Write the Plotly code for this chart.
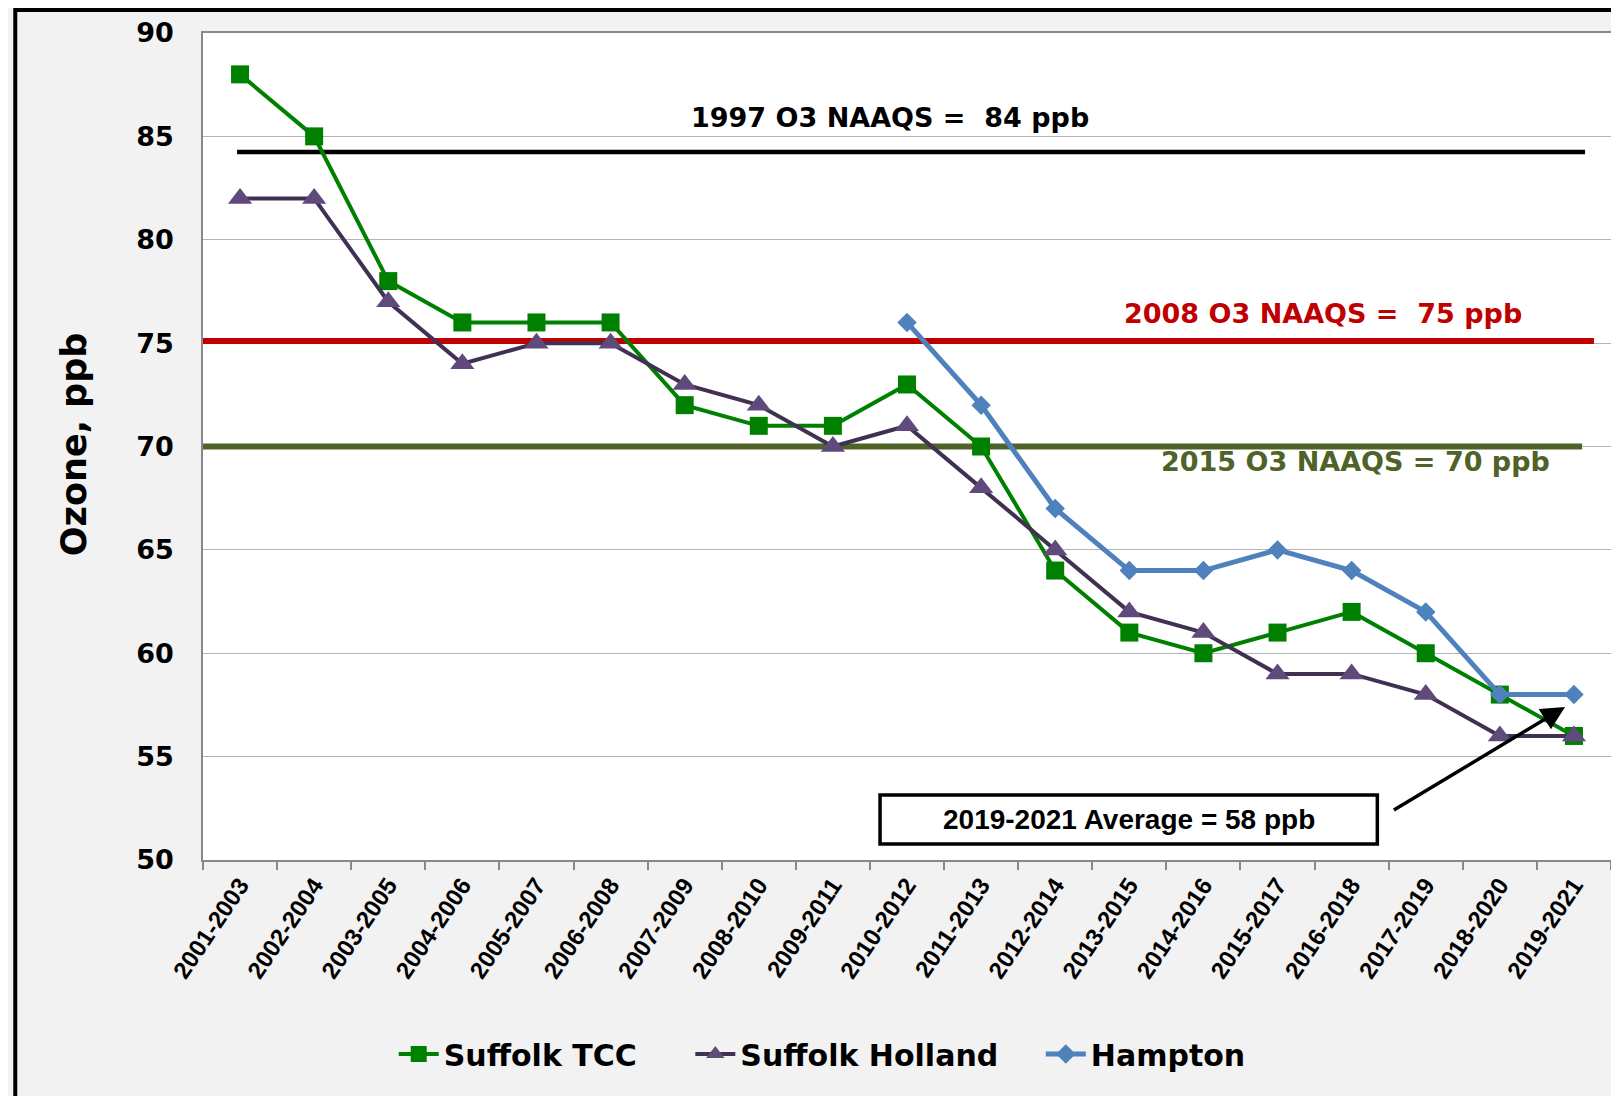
import plotly.graph_objects as go

periods = ["2001-2003", "2002-2004", "2003-2005", "2004-2006", "2005-2007", "2006-2008",
           "2007-2009", "2008-2010", "2009-2011", "2010-2012", "2011-2013", "2012-2014",
           "2013-2015", "2014-2016", "2015-2017", "2016-2018", "2017-2019", "2018-2020",
           "2019-2021"]
suffolk_tcc = [88, 85, 78, 76, 76, 76, 72, 71, 71, 73, 70, 64, 61, 60, 61, 62, 60, 58, 56]
suffolk_holland = [82, 82, 77, 74, 75, 75, 73, 72, 70, 71, 68, 65, 62, 61, 59, 59, 58, 56, 56]
hampton = [None, None, None, None, None, None, None, None, None,
           76, 72, 67, 64, 64, 65, 64, 62, 58, 58]

naaqs_labels = ["1997 O3 NAAQS = \u00a084 ppb", "2008 O3 NAAQS = \u00a075 ppb", "2015 O3 NAAQS = 70 ppb"]
naaqs_levels = [84.25, 75.1, 70.0]
avg_label = "2019-2021 Average = 58 ppb"

# page is offset by the 8px body margin
OFF = 8
PAGE_W, PAGE_H = 1619, 1096
W, H = PAGE_W - OFF, PAGE_H - OFF
PL, PR, PT, PB = 203, 1613, 33, 860      # plot area in page pixels
L, R, T, B = PL - OFF, PAGE_W - PR, PT - OFF, PAGE_H - PB
PW, PH = PR - PL, PB - PT


def px(xp):
    return (xp - PL) / PW


def py(yp):
    return (PB - yp) / PH


BOLD = "DejaVu Sans"
ARIAL = "Liberation Sans, Arial"
fig = go.Figure()

fig.add_trace(go.Scatter(
    x=periods, y=suffolk_tcc, name="Suffolk TCC", mode="lines+markers", legend="legend",
    line=dict(color="#008000", width=4),
    marker=dict(symbol="square", size=18, color="#008000")))
fig.add_trace(go.Scatter(
    x=periods, y=suffolk_holland, name="Suffolk Holland", mode="lines+markers", legend="legend2",
    line=dict(color="#403152", width=4),
    marker=dict(symbol="triangle-up", size=21, color="#604A7B")))
fig.add_trace(go.Scatter(
    x=periods, y=hampton, name="Hampton", mode="lines+markers", legend="legend3",
    line=dict(color="#4F81BD", width=5),
    marker=dict(symbol="diamond", size=15, color="#4F81BD")))

shapes = []
# outer border
shapes.append(dict(type="rect", xref="paper", yref="paper", x0=px(15), x1=px(1616),
                   y0=py(1110), y1=py(10), line=dict(color="black", width=4), layer="above"))

# NAAQS reference lines
ref_colors = ["#000000", "#C00000", "#4F6228"]
ref_widths = [4.5, 6, 6]
ref_x0 = [-0.04, -0.5, -0.5]
ref_x1 = [18.15, 18.27, 18.11]
for lvl, c, w, a, b in zip(naaqs_levels, ref_colors, ref_widths, ref_x0, ref_x1):
    shapes.append(dict(type="line", xref="x", yref="y", x0=a, x1=b, y0=lvl, y1=lvl,
                       line=dict(color=c, width=w), layer="between"))

# average box
shapes.append(dict(type="rect", xref="paper", yref="paper", x0=px(881), x1=px(1379),
                   y0=py(844), y1=py(795), fillcolor="white",
                   line=dict(color="black", width=3.5), layer="above"))

annotations = []
lab_pos = [(891, 117), (1325, 313), (1357, 461.5)]
for text, c, (xp, yp) in zip(naaqs_labels, ref_colors, lab_pos):
    annotations.append(dict(text=text, xref="paper", yref="paper", x=px(xp), y=py(yp),
                            xanchor="center", yanchor="middle", showarrow=False,
                            font=dict(family=BOLD, size=27, color=c, weight="bold")))
annotations.append(dict(text=avg_label, xref="paper", yref="paper", x=px(1130), y=py(819.5),
                        xanchor="center", yanchor="middle", showarrow=False,
                        font=dict(family=ARIAL, size=28, color="black", weight="bold")))
annotations.append(dict(text="", x=17.88, y=57.4, xref="x", yref="y",
                        ax=15.55, ay=52.37, axref="x", ayref="y",
                        showarrow=True, arrowhead=2, arrowsize=1.35, arrowwidth=3.5,
                        arrowcolor="black"))
annotations.append(dict(text="Ozone, ppb", xref="paper", yref="paper", x=px(74), y=py(445),
                        xanchor="center", yanchor="middle", textangle=-90, showarrow=False,
                        font=dict(family=BOLD, size=35, color="black", weight="bold")))

legend_common = dict(orientation="h", xanchor="left", yanchor="middle", y=py(1054),
                     font=dict(family=BOLD, size=30, color="black", weight="bold"),
                     bgcolor="rgba(0,0,0,0)", itemwidth=40)
leg_text_x = [446, 743, 1094]

fig.update_layout(
    width=W, height=H,
    margin=dict(l=L, r=R, t=T, b=B, pad=0),
    paper_bgcolor="#F2F2F2", plot_bgcolor="white",
    showlegend=True,
    legend=dict(x=px(leg_text_x[0] - 52), **legend_common),
    legend2=dict(x=px(leg_text_x[1] - 52), **legend_common),
    legend3=dict(x=px(leg_text_x[2] - 52), **legend_common),
    shapes=shapes, annotations=annotations,
    xaxis=dict(type="category", tickson="boundaries", ticks="outside", ticklen=8,
               tickcolor="#888888", tickwidth=1.5, showline=True, linecolor="#888888",
               linewidth=1.5, mirror=True, showgrid=False, tickangle=-56,
               range=[-0.5, 18.5],
               tickfont=dict(family=ARIAL, size=24, color="black", weight="bold")),
    yaxis=dict(range=[50, 90], dtick=5, showgrid=True, gridcolor="#B4B4B4", gridwidth=1.2,
               showline=True, linecolor="#888888", linewidth=1.5, mirror=True, ticks="",
               zeroline=False, ticklabelstandoff=22,
               tickfont=dict(family=BOLD, size=27, color="black", weight="bold")),
)

fig.write_html("out.html")
